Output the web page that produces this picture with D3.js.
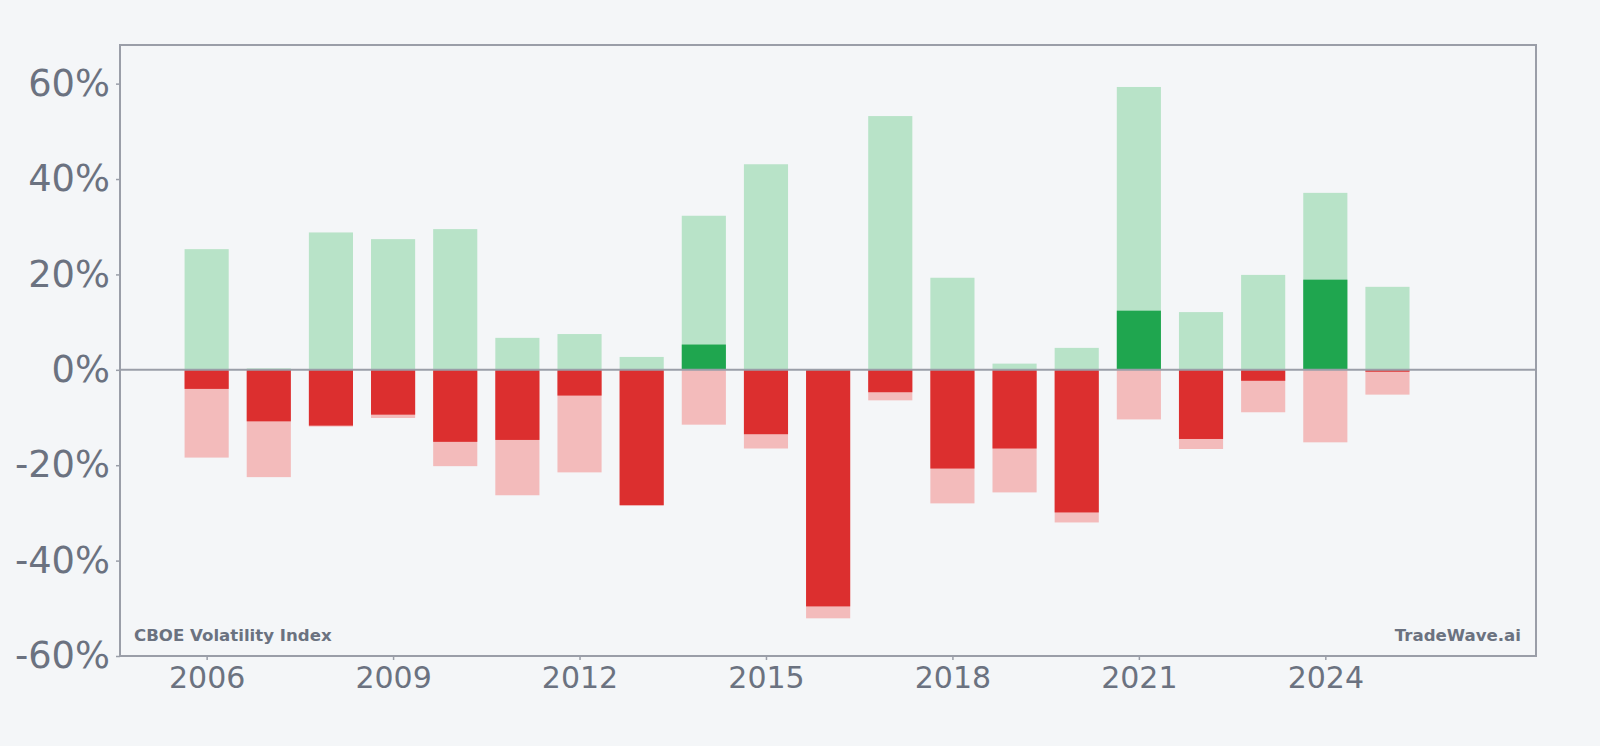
<!DOCTYPE html>
<html>
<head>
<meta charset="utf-8">
<script src="https://cdn.jsdelivr.net/npm/d3@7"></script>
<style>
  html, body { margin: 0; padding: 0; background: #f4f6f8; }
  svg { display: block; font-family: "DejaVu Sans", sans-serif; }
</style>
</head>
<body>
<svg id="chart" width="1600" height="746"></svg>
<script>
const years   = [2006,2007,2008,2009,2010,2011,2012,2013,2014,2015,2016,2017,2018,2019,2020,2021,2022,2023,2024,2025];
const highs   = [25.3, 0.3, 28.8, 27.4, 29.5, 6.7, 7.5, 2.7, 32.3, 43.1, 0.0, 53.2, 19.3, 1.3, 4.6, 59.3, 12.1, 19.9, 37.1, 17.4];
const lows    = [-18.4,-22.5,-11.9,-10.1,-20.2,-26.3,-21.5,-28.4,-11.5,-16.5,-52.1,-6.4,-28.0,-25.7,-32.0,-10.4,-16.6,-8.9,-15.2,-5.2];
const returns = [-4.0,-10.8,-11.7,-9.4,-15.1,-14.7,-5.4,-28.4, 5.3,-13.5,-49.6,-4.7,-20.7,-16.5,-29.9, 12.4,-14.5,-2.3, 18.9,-0.4];
const xTicks  = [2006, 2009, 2012, 2015, 2018, 2021, 2024];
const yTicks  = [-60, -40, -20, 0, 20, 40, 60];
const sourceLabel = "CBOE Volatility Index";
const brandLabel  = "TradeWave.ai";

const data = years.map((y, i) => ({ year: y, high: highs[i], low: lows[i], ret: returns[i] }));

const C = {
  bg: "#f4f6f8",
  frame: "#9a9ea8",
  text: "#6b7280",
  lightGreen: "#b8e3c8",
  darkGreen: "#1fa64f",
  lightRed: "#f3bbbb",
  darkRed: "#dc2f2f"
};

const L = 120, R = 1536, T = 45, B = 656;
const svg = d3.select("#chart");
svg.append("rect").attr("width", 1600).attr("height", 746).attr("fill", C.bg);

const x = d3.scaleLinear().domain([2004.606, 2027.39]).range([L, R]);
const y = d3.scaleLinear().domain([-60, 68.1]).range([B, T]);
const hw = 0.355;

const g = svg.append("g");

// light high bars
g.selectAll(".high").data(data.filter(d => d.high > 0)).join("rect")
  .attr("x", d => x(d.year - hw))
  .attr("width", d => x(d.year + hw) - x(d.year - hw))
  .attr("y", d => y(d.high))
  .attr("height", d => y(0) - y(d.high))
  .attr("fill", C.lightGreen);

// light low bars
g.selectAll(".low").data(data.filter(d => d.low < 0)).join("rect")
  .attr("x", d => x(d.year - hw))
  .attr("width", d => x(d.year + hw) - x(d.year - hw))
  .attr("y", y(0))
  .attr("height", d => y(d.low) - y(0))
  .attr("fill", C.lightRed);

// net return bars
g.selectAll(".ret").data(data).join("rect")
  .attr("x", d => x(d.year - hw))
  .attr("width", d => x(d.year + hw) - x(d.year - hw))
  .attr("y", d => d.ret >= 0 ? y(d.ret) : y(0))
  .attr("height", d => Math.abs(y(d.ret) - y(0)))
  .attr("fill", d => d.ret >= 0 ? C.darkGreen : C.darkRed);

// zero line
svg.append("line")
  .attr("x1", L).attr("x2", R).attr("y1", y(0)).attr("y2", y(0))
  .attr("stroke", C.frame).attr("stroke-width", 2);

// axes
const yAxis = svg.append("g").attr("transform", `translate(${L},0)`)
  .call(d3.axisLeft(y).tickValues(yTicks).tickFormat(d => d + "%").tickSize(4).tickPadding(6));
const xAxis = svg.append("g").attr("transform", `translate(0,${B})`)
  .call(d3.axisBottom(x).tickValues(xTicks).tickFormat(d3.format("d")).tickSize(4).tickPadding(7));

[yAxis, xAxis].forEach(a => {
  a.select(".domain").remove();
  a.selectAll(".tick line").attr("stroke", C.frame).attr("stroke-width", 1.5);
  a.selectAll(".tick text").attr("fill", C.text).attr("font-family", "DejaVu Sans, sans-serif");
});
yAxis.selectAll(".tick text").attr("font-size", 36.8);
xAxis.selectAll(".tick text").attr("font-size", 30);

// frame
svg.append("rect")
  .attr("x", L).attr("y", T).attr("width", R - L).attr("height", B - T)
  .attr("fill", "none").attr("stroke", C.frame).attr("stroke-width", 2);

// annotations
svg.append("text").attr("x", L + 14).attr("y", B - 15)
  .attr("font-size", 16.6).attr("font-weight", "bold").attr("fill", C.text)
  .text(sourceLabel);
svg.append("text").attr("x", R - 15).attr("y", B - 15)
  .attr("text-anchor", "end")
  .attr("font-size", 16.6).attr("font-weight", "bold").attr("fill", C.text)
  .text(brandLabel);
</script>
</body>
</html>
